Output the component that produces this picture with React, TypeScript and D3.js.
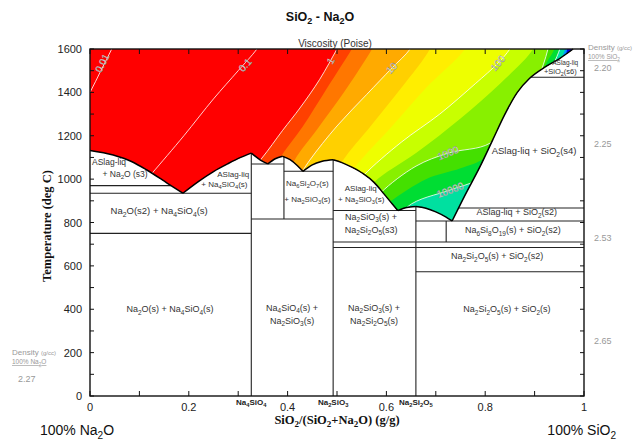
import React from 'react';
import * as d3 from 'd3';

type P = [number, number];

// ---------- axes ----------
const xTickValues = [0, 0.2, 0.4, 0.6, 0.8, 1];
const xTickLabels = ['0', '0.2', '0.4', '0.6', '0.8', '1'];
const yTickValues = [0, 200, 400, 600, 800, 1000, 1200, 1400, 1600];
const yTickLabels = ['0', '200', '400', '600', '800', '1000', '1200', '1400', '1600'];

// ---------- compounds on the x axis ----------
const compoundNames = ['Na4SiO4', 'Na2SiO3', 'Na2Si2O5'];
const compoundX = [0.3265, 0.4922, 0.6597];

// ---------- liquidus branches [SiO2 fraction, T degC] ----------
const liqNa2O: P[] = [[0, 1132], [0.047, 1111], [0.085, 1080], [0.115, 1042], [0.156, 982], [0.188, 935]];
const liqNa4SiO4L: P[] = [[0.188, 935], [0.22, 990], [0.25, 1035], [0.28, 1072], [0.305, 1100], [0.3265, 1120]];
const liqNa4SiO4R: P[] = [[0.3265, 1120], [0.345, 1088], [0.36, 1070]];
const liqNa6Si2O7L: P[] = [[0.36, 1070], [0.375, 1094], [0.39, 1105]];
const liqNa6Si2O7R: P[] = [[0.39, 1105], [0.405, 1090], [0.42, 1062], [0.431, 1036]];
const liqNa2SiO3L: P[] = [[0.431, 1036], [0.45, 1066], [0.47, 1082], [0.4922, 1089]];
const liqNa2SiO3R: P[] = [[0.4922, 1089], [0.51, 1076], [0.53, 1055], [0.553, 1025], [0.575, 985], [0.595, 932], [0.612, 885], [0.623, 855]];
const liqNa2Si2O5L: P[] = [[0.623, 855], [0.635, 866], [0.648, 872], [0.6597, 874]];
const liqNa2Si2O5R: P[] = [[0.6597, 874], [0.68, 866], [0.7, 849], [0.72, 826], [0.733, 807]];
const liqSiO2: P[] = [[0.733, 807], [0.76, 930], [0.79, 1060], [0.815, 1180], [0.84, 1300], [0.865, 1400], [0.89, 1465], [0.92, 1515], [0.95, 1555], [0.978, 1600]];
const liquidusBranches = [liqNa2O, liqNa4SiO4L, liqNa4SiO4R, liqNa6Si2O7L, liqNa6Si2O7R, liqNa2SiO3L, liqNa2SiO3R, liqNa2Si2O5L, liqNa2Si2O5R, liqSiO2];

// ---------- solid phase boundaries ----------
// isotherms: [T, xStart, xEnd]
const isotherms: [number, number, number][] = [
  [970, 0, 0.164],
  [935, 0, 0.3265],
  [750, 0, 0.3265],
  [1070, 0.3265, 0.3926],
  [1036, 0.3926, 0.4922],
  [816, 0.3265, 0.4922],
  [855, 0.4922, 0.6597],
  [710, 0.4922, 1],
  [685, 0.4922, 1],
  [807, 0.6597, 1],
  [867, 0.746, 1],
  [573, 0.6597, 1],
  [1470, 0.893, 1],
];
// isopleths: [x, Tlow, Thigh]
const isopleths: [number, number, number][] = [
  [0.3265, 0, 1120],
  [0.4922, 0, 1089],
  [0.6597, 0, 874],
  [0.3926, 816, 1104],
  [0.721, 710, 807],
];

// ---------- viscosity (Poise) contours ----------
const contourLevels = [0.01, 0.1, 1, 2, 5, 10, 20, 50, 100, 300, 1000, 3000, 10000, 1e5, 1e6];
const contourColors = ['#ff0000', '#ff0000', '#ff4000', '#ff7700', '#ffaa00', '#ffd000', '#ffee00', '#eeff00', '#c8ff00', '#88f000', '#44e000', '#00dd33', '#00e0a0', '#0099ff', '#0000ee'];
const baseColor = '#ff0000';
const c001: P[] = [[-0.03, 1280], [0, 1400], [0.022, 1500], [0.044, 1600], [0.06, 1680]];
const c01: P[] = [[0.1, 960], [0.126, 1028], [0.19, 1200], [0.25, 1370], [0.3, 1500], [0.338, 1600], [0.36, 1680]];
const c1: P[] = [[0.31, 1000], [0.348, 1097], [0.39, 1225], [0.425, 1328], [0.465, 1460], [0.5, 1600], [0.52, 1680]];
const c2: P[] = [[0.36, 1000], [0.385, 1100], [0.43, 1240], [0.48, 1420], [0.53, 1600], [0.55, 1680]];
const c5: P[] = [[0.4, 1000], [0.415, 1090], [0.46, 1230], [0.52, 1420], [0.571, 1600], [0.59, 1680]];
const c10: P[] = [[0.42, 1000], [0.445, 1088], [0.5, 1245], [0.56, 1390], [0.611, 1512], [0.648, 1600], [0.665, 1680]];
const c20: P[] = [[0.48, 950], [0.51, 1080], [0.57, 1250], [0.63, 1420], [0.688, 1600], [0.7, 1680]];
const c50: P[] = [[0.51, 950], [0.535, 1050], [0.61, 1240], [0.68, 1420], [0.759, 1600], [0.775, 1680]];
const c100: P[] = [[0.53, 950], [0.555, 1020], [0.63, 1170], [0.708, 1300], [0.78, 1440], [0.826, 1535], [0.85, 1600], [0.87, 1680]];
const c300: P[] = [[0.55, 900], [0.575, 985], [0.66, 1120], [0.75, 1280], [0.83, 1440], [0.897, 1600], [0.91, 1680]];
const c1000: P[] = [[0.57, 880], [0.59, 940], [0.66, 1060], [0.725, 1120], [0.81, 1166], [0.86, 1300], [0.9, 1430], [0.918, 1530], [0.927, 1600], [0.935, 1680]];
const c3000: P[] = [[0.59, 860], [0.61, 900], [0.68, 1000], [0.75, 1050], [0.8, 1100], [0.86, 1280], [0.905, 1440], [0.925, 1540], [0.94, 1600], [0.945, 1680]];
const c10000: P[] = [[0.6, 700], [0.642, 871], [0.729, 950], [0.783, 996], [0.83, 1100], [0.92, 1450], [0.951, 1600], [0.96, 1700]];
const c1e5: P[] = [[0.85, 1100], [0.93, 1450], [0.962, 1600], [0.97, 1700]];
const c1e6: P[] = [[0.87, 1100], [0.95, 1450], [0.966, 1600], [0.975, 1700]];
const contourLines = [c001, c01, c1, c2, c5, c10, c20, c50, c100, c300, c1000, c3000, c10000, c1e5, c1e6];
const labeledLevels = [0.01, 0.1, 1, 10, 100, 1000, 10000];
const labeledTexts = ['0.01', '0.1', '1', '10', '100', '1000', '10000'];
const labelAnchors: P[] = [[0.025, 1535], [0.314, 1526], [0.487, 1545], [0.611, 1512], [0.826, 1535], [0.725, 1120], [0.729, 950]];

// ---------- phase field labels ----------
const phaseTexts = [
  'ASlag-liq', '+ Na2O (s3)', 'ASlag-liq', '+ Na4SiO4(s)', 'Na2O(s2) + Na4SiO4(s)', 'Na2O(s) + Na4SiO4(s)',
  'Na6Si2O7(s)', '+ Na2SiO3(s)', 'ASlag-liq', '+ Na2SiO3(s)', 'Na2SiO3(s) +', 'Na2Si2O5(s3)',
  'Na4SiO4(s) +', 'Na2SiO3(s)', 'Na2SiO3(s) +', 'Na2Si2O5(s)', 'Na2Si2O5(s) + SiO2(s)', 'Na2Si2O5(s) + SiO2(s2)',
  'Na6Si8O19(s) + SiO2(s2)', 'ASlag-liq + SiO2(s2)', 'ASlag-liq + SiO2(s4)', 'ASlag-liq', '+SiO2(s6)',
];
const phaseAt: P[] = [
  [0.0385, 1064], [0.071, 1010], [0.29, 1010], [0.272, 965], [0.14, 838], [0.162, 386],
  [0.44, 967], [0.44, 893], [0.548, 944], [0.549, 893], [0.569, 812], [0.569, 752],
  [0.409, 391], [0.409, 331], [0.575, 391], [0.575, 331], [0.844, 386], [0.824, 630],
  [0.856, 750], [0.864, 833], [0.899, 1114], [0.962, 1527], [0.952, 1484],
];
const phaseSize = [8.5, 8.5, 8, 8, 9.5, 9, 8, 8, 8, 8, 9, 9, 9, 9, 9, 9, 9, 9, 9, 9, 9.5, 6.5, 7.5];

const SANS = '"Liberation Sans", Arial, sans-serif';
const SERIF = '"Liberation Serif", "Times New Roman", serif';

function chemParts(s: string) {
  const out: { t: string; sub: boolean }[] = [];
  let prevSub = false;
  for (let i = 0; i < s.length; i++) {
    const c = s[i];
    const prev = i > 0 ? s[i - 1] : '';
    let sub = false;
    if (/[0-9]/.test(c)) {
      if (/[A-Za-z]/.test(prev) && !(prev === 's' && s[i - 2] === '(')) sub = true;
      else if (/[0-9]/.test(prev) && prevSub) sub = true;
    }
    if (out.length && out[out.length - 1].sub === sub) out[out.length - 1].t += c;
    else out.push({ t: c, sub });
    prevSub = sub;
  }
  return out;
}

function Chem({ s, fs }: { s: string; fs: number }) {
  const parts = chemParts(s);
  let cur = false;
  return (
    <>
      {parts.map((p, i) => {
        let dy = 0;
        if (p.sub && !cur) dy = fs * 0.25;
        if (!p.sub && cur) dy = -fs * 0.25;
        cur = p.sub;
        return (
          <tspan key={i} dy={dy || undefined} fontSize={p.sub ? fs * 0.72 : fs}>
            {p.t}
          </tspan>
        );
      })}
    </>
  );
}

export default function App() {
  const xs = d3.scaleLinear().domain([0, 1]).range([90, 584]);
  const ys = d3.scaleLinear().domain([0, 1600]).range([396, 49]);
  const mono = d3.line<P>().x((d) => xs(d[0])).y((d) => ys(d[1])).curve(d3.curveMonotoneX);
  const smooth = d3.line<P>().x((d) => xs(d[0])).y((d) => ys(d[1])).curve(d3.curveCatmullRom.alpha(0.5));

  const liquidD = liquidusBranches.map((b) => (mono(b) as string).replace(/^M/, 'L')).join('');
  const clipD = `M${xs(0)},${ys(1600)}` + liquidD + 'Z';

  const bandPath = (pts: P[]) => {
    const first = pts[0];
    const last = pts[pts.length - 1];
    return (
      (smooth(pts) as string) +
      `L${xs(1.3)},${ys(last[1])}L${xs(1.3)},${ys(-300)}L${xs(first[0])},${ys(-300)}Z`
    );
  };

  const angleAt = (pts: P[], p: P) => {
    const px = pts.map((d) => [xs(d[0]), ys(d[1])]);
    const q = [xs(p[0]), ys(p[1])];
    let best = 0;
    let bd = Infinity;
    for (let i = 0; i < px.length - 1; i++) {
      const mx = (px[i][0] + px[i + 1][0]) / 2;
      const my = (px[i][1] + px[i + 1][1]) / 2;
      const dd = (mx - q[0]) ** 2 + (my - q[1]) ** 2;
      if (dd < bd) {
        bd = dd;
        best = i;
      }
    }
    const a = px[best];
    const b = px[best + 1];
    return (Math.atan2(b[1] - a[1], b[0] - a[0]) * 180) / Math.PI;
  };

  const minorX = d3.range(0, 1.0001, 0.1);
  const minorY = d3.range(0, 1601, 100);

  return (
    <svg width={636} height={441} style={{ position: 'absolute', left: 0, top: 0, background: '#fff' }} fontFamily={SANS}>
      <defs>
        <clipPath id="liq">
          <path d={clipD} />
        </clipPath>
        <clipPath id="plot">
          <rect x={xs(0)} y={ys(1600)} width={xs(1) - xs(0)} height={ys(0) - ys(1600)} />
        </clipPath>
      </defs>
      <rect x={0} y={0} width={636} height={441} fill="#fff" />

      {/* title */}
      <text x={320} y={21} textAnchor="middle" fontSize={12.5} fontWeight="bold" fill="#111">
        <Chem s="SiO2 - Na2O" fs={12.5} />
      </text>
      <text x={335} y={47} textAnchor="middle" fontSize={10} fill="#333">
        Viscosity (Poise)
      </text>

      {/* viscosity field */}
      <g clipPath="url(#plot)">
        <g clipPath="url(#liq)">
          <rect x={xs(0)} y={ys(1600)} width={xs(1) - xs(0)} height={ys(0) - ys(1600)} fill={baseColor} />
          {contourLines.map((pts, i) => (
            <path key={i} d={bandPath(pts)} fill={contourColors[i]} stroke="none" />
          ))}
          {contourLines.map((pts, i) =>
            labeledLevels.includes(contourLevels[i]) ? (
              <path key={'w' + i} d={smooth(pts) as string} fill="none" stroke="#fff" strokeWidth={0.9} opacity={0.9} />
            ) : null
          )}
          {labeledTexts.map((t, i) => {
            const li = contourLevels.indexOf(labeledLevels[i]);
            const ang = angleAt(contourLines[li], labelAnchors[i]);
            const x = xs(labelAnchors[i][0]);
            const y = ys(labelAnchors[i][1]);
            return (
              <text
                key={'l' + i}
                x={x}
                y={y}
                dy={3.5}
                transform={`rotate(${ang},${x},${y})`}
                textAnchor="middle"
                fontSize={10}
                fill="#fff"
                stroke="#777"
                strokeWidth={0.35}
              >
                {t}
              </text>
            );
          })}
        </g>
      </g>

      {/* phase boundaries */}
      <g stroke="#222" strokeWidth={1.1} fill="none">
        {isotherms.map(([t, a, b], i) => (
          <line key={'h' + i} x1={xs(a)} x2={xs(b)} y1={ys(t)} y2={ys(t)} />
        ))}
        {isopleths.map(([x, a, b], i) => (
          <line key={'v' + i} x1={xs(x)} x2={xs(x)} y1={ys(a)} y2={ys(b)} />
        ))}
      </g>
      <g stroke="#000" strokeWidth={1.5} fill="none">
        {liquidusBranches.map((b, i) => (
          <path key={i} d={mono(b) as string} />
        ))}
      </g>

      {/* phase labels */}
      {phaseTexts.map((t, i) => (
        <text key={'p' + i} x={xs(phaseAt[i][0])} y={ys(phaseAt[i][1])} textAnchor="middle" fontSize={phaseSize[i]} fill="#333">
          <Chem s={t} fs={phaseSize[i]} />
        </text>
      ))}

      {/* frame */}
      <rect x={xs(0)} y={ys(1600)} width={xs(1) - xs(0)} height={ys(0) - ys(1600)} fill="none" stroke="#111" strokeWidth={1.4} />

      {/* ticks */}
      <g stroke="#111" strokeWidth={1}>
        {minorX.map((v, i) => (
          <g key={'tx' + i}>
            <line x1={xs(v)} x2={xs(v)} y1={ys(0)} y2={ys(0) - 5} />
            <line x1={xs(v)} x2={xs(v)} y1={ys(1600)} y2={ys(1600) + 5} />
          </g>
        ))}
        {minorY.map((v, i) => (
          <g key={'ty' + i}>
            <line x1={xs(0)} x2={xs(0) + 4} y1={ys(v)} y2={ys(v)} />
            <line x1={xs(1)} x2={xs(1) - 4} y1={ys(v)} y2={ys(v)} />
          </g>
        ))}
      </g>

      {/* tick labels */}
      {xTickValues.map((v, i) => (
        <text key={'xl' + i} x={xs(v)} y={ys(0) + 15} textAnchor="middle" fontSize={11} fill="#222">
          {xTickLabels[i]}
        </text>
      ))}
      {yTickValues.map((v, i) => (
        <text key={'yl' + i} x={xs(0) - 8} y={ys(v) + 4} textAnchor="end" fontSize={11} fill="#222">
          {yTickLabels[i]}
        </text>
      ))}
      {compoundNames.map((n, i) => (
        <text key={'cn' + i} x={xs(compoundX[i])} y={ys(0) + 9} textAnchor="middle" fontSize={8} fontWeight="bold" fill="#222">
          <Chem s={n} fs={8} />
        </text>
      ))}

      {/* axis titles */}
      <text x={337} y={424} textAnchor="middle" fontSize={12.5} fontWeight="bold" fontFamily={SERIF} fill="#111">
        <Chem s="SiO2/(SiO2+Na2O) (g/g)" fs={12.5} />
      </text>
      <text x={51} y={226} textAnchor="middle" fontSize={12.5} fontWeight="bold" fontFamily={SERIF} fill="#111" transform="rotate(-90,51,226)">
        Temperature (deg C)
      </text>

      {/* density annotations */}
      <g fill="#999">
        <text x={588} y={50} fontSize={8}>
          Density <tspan fontSize={6}>(g/cc)</tspan>
        </text>
        <text x={588} y={59} fontSize={6.5} textDecoration="underline">
          <Chem s="100% SiO2" fs={6.5} />
        </text>
        <text x={594} y={71} fontSize={9}>2.20</text>
        <text x={594} y={147} fontSize={9}>2.25</text>
        <text x={594} y={241} fontSize={9}>2.53</text>
        <text x={594} y={344} fontSize={9}>2.65</text>
        <text x={12} y={355} fontSize={8}>
          Density <tspan fontSize={6}>(g/cc)</tspan>
        </text>
        <text x={12} y={364} fontSize={6.5} textDecoration="underline">
          <Chem s="100% Na2O" fs={6.5} />
        </text>
        <text x={18} y={382} fontSize={9}>2.27</text>
      </g>

      {/* bottom captions */}
      <text x={40} y={435} fontSize={14} fill="#111">
        <Chem s="100% Na2O" fs={14} />
      </text>
      <text x={616} y={435} fontSize={14} fill="#111" textAnchor="end">
        <Chem s="100% SiO2" fs={14} />
      </text>
    </svg>
  );
}
